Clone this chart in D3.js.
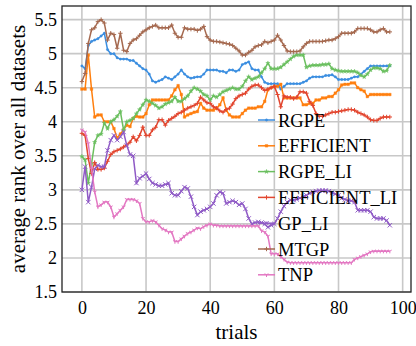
<!DOCTYPE html>
<html>
<head>
<script src="https://cdnjs.cloudflare.com/ajax/libs/d3/7.8.5/d3.min.js"></script>
<style>
  html, body { margin: 0; padding: 0; background: #fff; }
  svg { display: block; }
  text { font-family: "Liberation Serif", "Times New Roman", serif; fill: #000; }
</style>
</head>
<body>
<div id="chart"></div>
<script>
// trials 0..96
var trials = d3.range(0, 97);

var xTicks = [0, 20, 40, 60, 80, 100];
var yTicks = [1.5, 2, 2.5, 3, 3.5, 4, 4.5, 5, 5.5];
var yTickLabels = ["1.5", "2", "2.5", "3", "3.5", "4", "4.5", "5", "5.5"];

var names = ["RGPE", "EFFICIENT", "RGPE_LI", "EFFICIENT_LI", "GP_LI", "MTGP", "TNP"];

var rgpe = [4.82, 4.78, 5.12, 5.18, 5.2, 5.22, 5.26, 5.3, 5.06, 5.0,
  5.0, 4.94, 4.92, 4.92, 4.92, 4.9, 4.9, 4.86, 4.82, 4.78,
  4.76, 4.7, 4.6, 4.58, 4.6, 4.62, 4.66, 4.64, 4.62, 4.66,
  4.7, 4.76, 4.7, 4.66, 4.64, 4.65, 4.66, 4.66, 4.7, 4.76,
  4.76, 4.76, 4.76, 4.74, 4.74, 4.72, 4.76, 4.76, 4.74, 4.76,
  4.84, 4.86, 4.88, 4.78, 4.76, 4.76, 4.66, 4.58, 4.56, 4.56,
  4.56, 4.56, 4.48, 4.52, 4.56, 4.56, 4.56, 4.56, 4.56, 4.58,
  4.6, 4.64, 4.66, 4.66, 4.66, 4.66, 4.68, 4.68, 4.69, 4.66,
  4.62, 4.62, 4.62, 4.62, 4.64, 4.66, 4.66, 4.7, 4.74, 4.78,
  4.82, 4.82, 4.82, 4.82, 4.82, 4.82, 4.82];

var efficient = [4.48, 4.48, 4.98, 4.48, 4.07, 4.1, 4.1, 4.0, 4.0, 4.0,
  3.9, 3.76, 3.82, 3.88, 3.95, 3.93, 4.05, 4.08, 4.07, 4.07,
  4.12, 4.25, 4.32, 4.32, 4.32, 4.32, 4.32, 4.32, 4.38, 4.47,
  4.53, 4.4, 4.07, 4.1, 4.12, 4.14, 4.15, 4.27, 4.2, 4.17,
  4.17, 4.17, 4.2, 4.25, 4.35, 4.17, 4.1, 4.07, 4.07, 4.07,
  4.12, 4.17, 4.2, 4.2, 4.2, 4.22, 4.22, 4.3, 4.47, 4.5,
  4.52, 4.52, 4.55, 4.35, 4.35, 4.35, 4.35, 4.35, 4.35, 4.25,
  4.25, 4.27, 4.27, 4.32, 4.32, 4.35, 4.35, 4.37, 4.37, 4.42,
  4.47, 4.54, 4.55, 4.55, 4.57, 4.57, 4.5, 4.47, 4.45, 4.37,
  4.4, 4.4, 4.4, 4.4, 4.4, 4.4, 4.4];

var rgpeLi = [3.49, 3.44, 3.1, 3.38, 3.7, 3.8, 3.82, 3.98, 3.9, 4.0,
  4.03, 4.08, 4.15, 3.88, 4.0, 4.02, 4.05, 4.12, 4.18, 4.25,
  4.32, 4.3, 4.27, 4.24, 4.2, 4.22, 4.26, 4.28, 4.3, 4.36,
  4.3, 4.3, 4.34, 4.38, 4.45, 4.5, 4.48, 4.45, 4.4, 4.38,
  4.32, 4.38, 4.36, 4.4, 4.44, 4.46, 4.48, 4.5, 4.48, 4.48,
  4.52, 4.6, 4.66, 4.62, 4.64, 4.66, 4.72, 4.78, 4.86, 4.78,
  4.78, 4.78, 4.8, 4.84, 4.88, 4.92, 4.96, 4.98, 4.98, 4.98,
  4.8, 4.82, 4.83, 4.83, 4.83, 4.84, 4.84, 4.85, 4.78, 4.76,
  4.75, 4.74, 4.74, 4.74, 4.74, 4.74, 4.72, 4.68, 4.66, 4.7,
  4.76, 4.79, 4.79, 4.78, 4.74, 4.75, 4.83];

var efficientLi = [3.83, 3.8, 3.46, 3.24, 3.4, 3.3, 3.3, 3.32, 3.42, 3.52,
  3.56, 3.58, 3.6, 3.63, 3.66, 3.7, 3.78, 3.72, 3.8, 3.92,
  3.8, 3.8, 3.88, 3.92, 4.03, 4.03, 3.95, 4.02, 4.05, 4.08,
  4.12, 4.14, 4.17, 4.2, 4.22, 4.24, 4.27, 4.36, 4.32, 4.28,
  4.27, 4.22, 4.2, 4.16, 4.14, 4.18, 4.2, 4.26, 4.34, 4.38,
  4.4, 4.42, 4.48, 4.52, 4.54, 4.54, 4.5, 4.46, 4.48, 4.5,
  4.52, 4.4, 4.22, 4.38, 4.36, 4.36, 4.34, 4.36, 4.44, 4.44,
  4.42, 4.3, 4.24, 4.12, 4.08, 4.08, 4.1, 4.12, 4.14, 4.14,
  4.15, 4.16, 4.17, 4.18, 4.18, 4.17, 4.14, 4.12, 4.1, 4.07,
  4.03, 4.02, 4.02, 4.05, 4.07, 4.07, 4.07];

var gpLi = [3.0, 3.34, 2.82, 3.04, 3.31, 3.36, 3.34, 3.34, 3.58, 3.73,
  3.8, 3.73, 3.78, 3.85, 3.65, 3.52, 3.5, 3.1, 3.17, 3.2,
  3.24, 3.16, 3.1, 3.08, 3.06, 3.06, 3.08, 3.1, 2.95, 2.92,
  2.92, 2.98, 3.04, 3.02, 2.9, 2.75, 2.63, 2.68, 2.7, 2.72,
  2.75, 2.8, 2.92, 2.97, 2.95, 2.8, 2.82, 2.84, 2.82, 2.78,
  2.8, 2.72, 2.58, 2.5, 2.52, 2.53, 2.52, 2.5, 2.45, 2.48,
  2.5, 2.58, 2.68, 2.76, 2.82, 2.85, 2.85, 2.86, 2.88, 2.9,
  2.92, 2.95, 2.97, 2.98, 2.99, 2.99, 2.99, 2.98, 2.96, 2.94,
  2.92, 2.88, 2.86, 2.84, 2.84, 2.82, 2.7, 2.7, 2.7, 2.7,
  2.68, 2.6, 2.58, 2.58, 2.58, 2.55, 2.48];

var mtgp = [4.59, 4.71, 5.15, 5.35, 5.38, 5.47, 5.5, 5.45, 5.2, 5.3,
  5.28, 5.08, 5.3, 5.05, 5.03, 5.15, 5.2, 5.22, 5.27, 5.32,
  5.35, 5.38, 5.4, 5.42, 5.38, 5.38, 5.38, 5.38, 5.42, 5.3,
  5.24, 5.24, 5.38, 5.36, 5.36, 5.36, 5.34, 5.36, 5.4, 5.25,
  5.2, 5.18, 5.18, 5.17, 5.16, 5.15, 5.14, 5.12, 5.08, 5.04,
  4.98, 4.98, 5.02, 5.05, 5.1, 5.12, 5.13, 5.18, 5.16, 5.18,
  5.2, 5.27, 5.2, 5.12, 5.04, 5.03, 5.03, 5.03, 5.04, 5.1,
  5.15, 5.18, 5.18, 5.18, 5.18, 5.18, 5.19, 5.2, 5.2, 5.22,
  5.25, 5.3, 5.3, 5.3, 5.3, 5.32, 5.37, 5.37, 5.37, 5.37,
  5.35, 5.32, 5.32, 5.35, 5.37, 5.32, 5.32];

var tnp = [3.88, 3.85, 3.68, 3.31, 2.97, 2.75, 2.78, 2.82, 2.82, 2.75,
  2.6, 2.65, 2.7, 2.75, 2.86, 2.86, 2.86, 2.84, 2.8, 2.58,
  2.53, 2.53, 2.55, 2.53, 2.48, 2.43, 2.41, 2.38, 2.38, 2.24,
  2.24, 2.28, 2.32, 2.36, 2.38, 2.41, 2.44, 2.43, 2.46, 2.48,
  2.5, 2.48, 2.48, 2.47, 2.47, 2.47, 2.47, 2.47, 2.47, 2.47,
  2.47, 2.47, 2.47, 2.47, 2.47, 2.47, 2.4, 2.38, 2.32, 2.06,
  2.06, 2.06, 2.02, 1.98, 1.94, 1.93, 1.93, 1.93, 1.93, 1.93,
  1.93, 1.93, 1.93, 1.93, 1.93, 1.93, 1.93, 1.93, 1.93, 1.93,
  1.93, 1.93, 1.93, 1.93, 1.93, 1.98, 2.0, 2.02, 2.04, 2.06,
  2.09, 2.1, 2.1, 2.1, 2.1, 2.1, 2.1];

var colors = ["#3b8ee0", "#ff7f0e", "#6bbf5f", "#e2462f", "#8f5ac6", "#a5694f", "#e377c2"];
var markers = ["dot", "square", "star", "plus", "x", "plus", "tri"];

var series = [rgpe, efficient, rgpeLi, efficientLi, gpLi, mtgp, tnp];

var W = 416, H = 346;
var margin = {left: 62, right: 5, top: 6, bottom: 54};

var svg = d3.select("#chart").append("svg")
  .attr("width", W).attr("height", H);

var x = d3.scaleLinear().domain([-6.2, 102.6]).range([margin.left, W - margin.right]);
var y = d3.scaleLinear().domain([1.5, 5.7]).range([H - margin.bottom, margin.top]);

// grid
svg.append("g").selectAll("line").data(xTicks).enter().append("line")
  .attr("x1", d => x(d)).attr("x2", d => x(d))
  .attr("y1", y.range()[1]).attr("y2", y.range()[0])
  .attr("stroke", "#c8c8c8").attr("stroke-width", 1.6);
svg.append("g").selectAll("line").data(yTicks).enter().append("line")
  .attr("x1", x.range()[0]).attr("x2", x.range()[1])
  .attr("y1", d => y(d)).attr("y2", d => y(d))
  .attr("stroke", "#c8c8c8").attr("stroke-width", 1.6);

// axes (labels only, no tick marks)
var xAxis = d3.axisBottom(x).tickValues(xTicks).tickSize(0).tickPadding(9);
var yAxis = d3.axisLeft(y).tickValues(yTicks).tickSize(0).tickPadding(5)
  .tickFormat((d, i) => yTickLabels[i]);

svg.append("g").attr("transform", "translate(0," + y.range()[0] + ")")
  .call(xAxis)
  .call(g => g.select(".domain").remove())
  .selectAll("text").style("font-size", "18px").style("font-family", "Liberation Serif").attr("fill", "#000");
svg.append("g").attr("transform", "translate(" + x.range()[0] + ",0)")
  .call(yAxis)
  .call(g => g.select(".domain").remove())
  .selectAll("text").style("font-size", "18px").style("font-family", "Liberation Serif").attr("fill", "#000");

function markerPath(type, s) {
  if (type == "dot") return d3.symbol(d3.symbolCircle, s * s * 0.9)();
  if (type == "square") return d3.symbol(d3.symbolSquare, s * s * 1.4)();
  if (type == "star") return d3.symbol(d3.symbolStar, s * s * 1.2)();
  if (type == "plus") return "M" + (-s) + ",0L" + s + ",0M0," + (-s) + "L0," + s;
  if (type == "x") return "M" + (-s) + "," + (-s) + "L" + s + "," + s + "M" + (-s) + "," + s + "L" + s + "," + (-s);
  // tri_down style
  return "M0,0L0," + s + "M0,0L" + (-s * 0.87) + "," + (-s * 0.5) + "M0,0L" + (s * 0.87) + "," + (-s * 0.5);
}

var line = d3.line().x((d, i) => x(trials[i])).y(d => y(d));

var plot = svg.append("g");
series.forEach(function(vals, k) {
  var g = plot.append("g");
  g.append("path").datum(vals)
    .attr("d", line)
    .attr("fill", "none")
    .attr("stroke", colors[k])
    .attr("stroke-width", 1.5);
  var filled = markers[k] == "dot" || markers[k] == "square" || markers[k] == "star";
  g.selectAll("path.m").data(vals).enter().append("path")
    .attr("class", "m")
    .attr("transform", (d, i) => "translate(" + x(trials[i]) + "," + y(d) + ")")
    .attr("d", markerPath(markers[k], 2.2))
    .attr("fill", filled ? colors[k] : "none")
    .attr("stroke", colors[k])
    .attr("stroke-width", filled ? 0.4 : 1);
});

// frame
svg.append("rect")
  .attr("x", x.range()[0]).attr("y", y.range()[1])
  .attr("width", x.range()[1] - x.range()[0])
  .attr("height", y.range()[0] - y.range()[1])
  .attr("fill", "none").attr("stroke", "#222").attr("stroke-width", 1.3);

// legend, no background
var legend = svg.append("g").attr("transform", "translate(258,120)");
names.forEach(function(n, k) {
  var row = legend.append("g").attr("transform", "translate(0," + (k * 25.8) + ")");
  row.append("line").attr("x1", 0).attr("x2", 17).attr("y1", 0).attr("y2", 0)
    .attr("stroke", colors[k]).attr("stroke-width", 1.5);
  var filled = markers[k] == "dot" || markers[k] == "square" || markers[k] == "star";
  row.append("path").attr("transform", "translate(8.5,0)")
    .attr("d", markerPath(markers[k], 2.2))
    .attr("fill", filled ? colors[k] : "none")
    .attr("stroke", colors[k]).attr("stroke-width", filled ? 0.4 : 1);
  row.append("text").attr("x", 20).attr("y", 6.5)
    .style("font-size", "18.5px").text(n);
});

// axis titles
svg.append("text")
  .attr("x", (x.range()[0] + x.range()[1]) / 2).attr("y", 339)
  .attr("text-anchor", "middle").style("font-size", "21px").text("trials");
svg.append("text")
  .attr("transform", "translate(25," + ((y.range()[0] + y.range()[1]) / 2) + ") rotate(-90)")
  .attr("text-anchor", "middle").style("font-size", "21px")
  .text("average rank over all datasets");
</script>
</body>
</html>
